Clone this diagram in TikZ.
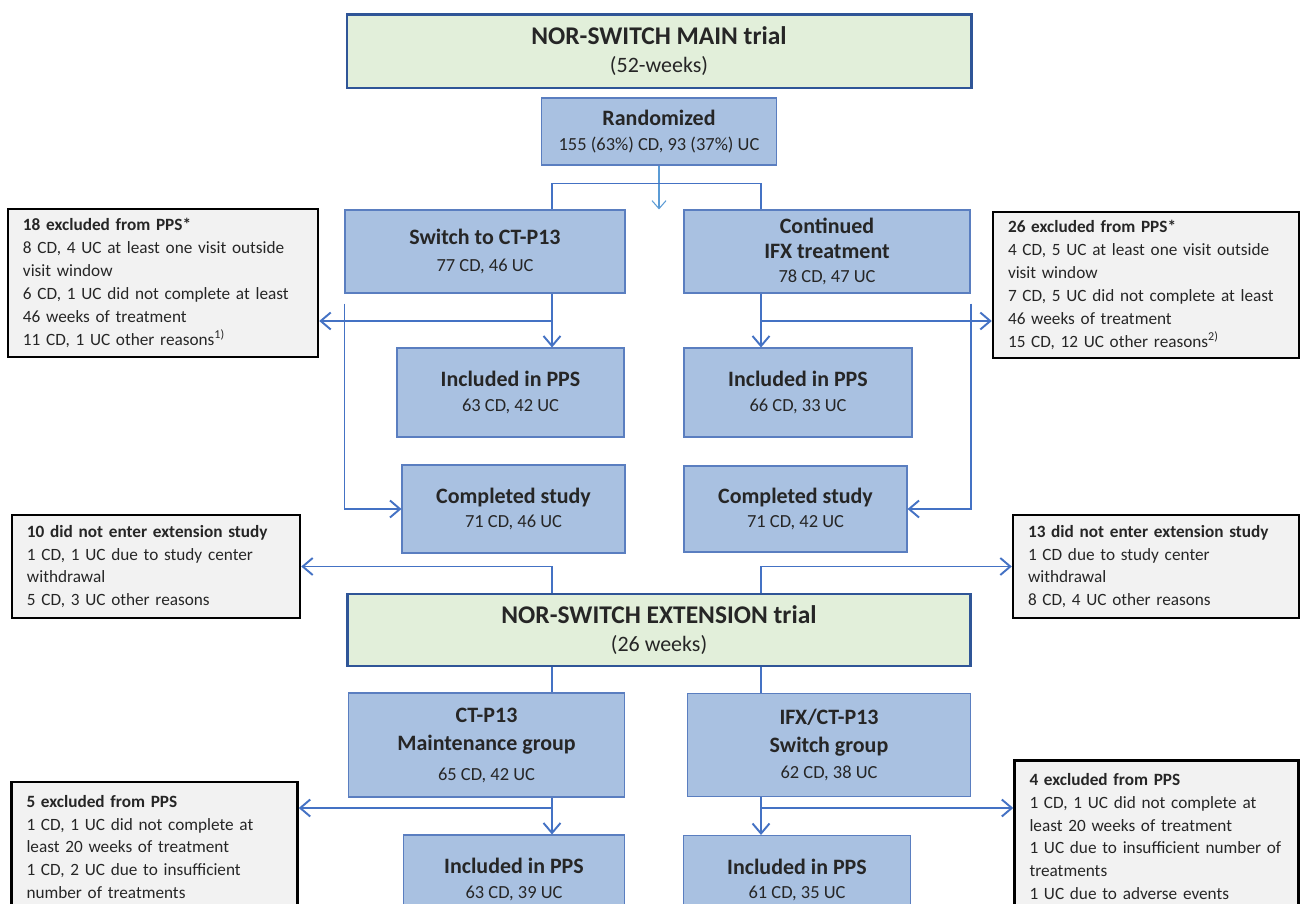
\documentclass[tikz,border=0pt]{standalone}
\usepackage{fontspec}
\setmainfont{Carlito}
\usetikzlibrary{arrows.meta}

\definecolor{boxblue}{HTML}{A9C1E1}
\definecolor{boxline}{HTML}{5A7EC0}
\definecolor{trialgreen}{HTML}{E2EFDA}
\definecolor{trialline}{HTML}{2F5597}
\definecolor{exgray}{HTML}{F2F2F2}
\definecolor{linkblue}{HTML}{4472C4}
\definecolor{thinblue}{HTML}{5B9BD5}
\definecolor{txtgray}{HTML}{262626}

\newcommand{\hd}[1]{{\fontsize{12.5}{15}\selectfont\bfseries #1}}
\newcommand{\hdbig}[1]{{\fontsize{14.5}{17}\selectfont\bfseries #1}}

\tikzstyle{trial} = [
    rectangle,
    draw=trialline,
    line width=1.7pt,
    fill=trialgreen,
    align=center,
    text=txtgray,
    font=\fontsize{12.5}{16}\selectfont
]
\tikzstyle{process} = [
    rectangle,
    draw=boxline,
    line width=0.6pt,
    fill=boxblue,
    align=center,
    inner sep=0pt,
    text=txtgray,
    font=\fontsize{10.5}{14}\selectfont
]
\tikzstyle{excluded} = [
    rectangle,
    draw=black,
    line width=1.4pt,
    fill=exgray,
    align=left,
    inner xsep=0.3cm,
    inner ysep=0pt,
    text=txtgray,
    font=\fontsize{9.8}{13}\selectfont
]
\tikzstyle{link} = [draw=linkblue, line width=1.1pt]
\tikzstyle{arrow} = [link, -{Straight Barb[length=2mm,width=3.4mm]}]
\tikzstyle{thinarrow} = [draw=thinblue, line width=0.6pt, -{Straight Barb[length=1.6mm,width=2.8mm]}]

\begin{document}
\begin{tikzpicture}[node distance=1.6cm]

\useasboundingbox (0,0) rectangle (26.02,-18.08);
\clip (0,0) rectangle (26.02,-18.08);

% main trial
\node (main) [trial, minimum width=12.48cm, minimum height=1.46cm] at (13.18,-1.03)
{\hdbig{NOR-SWITCH MAIN trial}\\(52-weeks)};

\node (rand) [process, below of=main, minimum width=4.7cm, minimum height=1.34cm]
{\hd{Randomized}\\155 (63\%) CD, 93 (37\%) UC};

\node (switch) [process, below of=rand, yshift=-0.8cm, xshift=-3.48cm,
    minimum width=5.6cm, minimum height=1.66cm]
{\hd{Switch to CT-P13}\\[1pt]77 CD, 46 UC};

\node (cont) [process, right of=switch, xshift=5.24cm,
    minimum width=5.72cm, minimum height=1.66cm]
{\hd{Continued}\\\hd{IFX treatment}\\78 CD, 47 UC};

\node (incl1) [process, below of=switch, yshift=-1.22cm, xshift=0.51cm,
    minimum width=4.54cm, minimum height=1.78cm]
{\hd{Included in PPS}\\63 CD, 42 UC};

\node (incl2) [process, below of=cont, yshift=-1.22cm, xshift=-0.58cm,
    minimum width=4.56cm, minimum height=1.78cm]
{\hd{Included in PPS}\\66 CD, 33 UC};

\node (comp1) [process, below of=incl1, yshift=-0.73cm, xshift=0.06cm,
    minimum width=4.46cm, minimum height=1.76cm]
{\hd{Completed study}\\71 CD, 46 UC};

\node (comp2) [process, below of=incl2, yshift=-0.73cm, xshift=-0.05cm,
    minimum width=4.46cm, minimum height=1.72cm]
{\hd{Completed study}\\71 CD, 42 UC};

% excluded from main trial
\node (exA) [excluded, left of=switch, xshift=-4.84cm, yshift=-0.63cm,
    text width=5.6cm, minimum height=2.96cm]
{\textbf{18 excluded from PPS*}\\8 CD, 4 UC at least one visit outside\\visit window\\6 CD, 1 UC did not complete at least\\46 weeks of treatment\\11 CD, 1 UC other reasons\textsuperscript{1)}};

\node (exB) [excluded, right of=cont, xshift=4.78cm, yshift=-0.67cm,
    text width=5.52cm, minimum height=2.92cm]
{\textbf{26 excluded from PPS*}\\4 CD, 5 UC at least one visit outside\\visit window\\7 CD, 5 UC did not complete at least\\46 weeks of treatment\\15 CD, 12 UC other reasons\textsuperscript{2)}};

% extension trial
\node (ext) [trial, below of=main, yshift=-9.97cm, minimum width=12.46cm, minimum height=1.44cm]
{\hdbig{NOR-SWITCH EXTENSION trial}\\(26 weeks)};

\node (noextA) [excluded, left of=comp1, xshift=-5.55cm, yshift=-1.15cm,
    text width=5.16cm, minimum height=2.06cm]
{\textbf{10 did not enter extension study}\\1 CD, 1 UC due to study center\\withdrawal\\5 CD, 3 UC other reasons};

\node (noextB) [excluded, right of=comp2, xshift=5.61cm, yshift=-1.15cm,
    text width=5.12cm, minimum height=2.06cm]
{\textbf{13 did not enter extension study}\\1 CD due to study center\\withdrawal\\8 CD, 4 UC other reasons};

\node (ctp) [process, below of=ext, yshift=-0.7cm, xshift=-3.45cm,
    minimum width=5.52cm, minimum height=2.08cm]
{\hd{CT-P13}\\[2pt]\hd{Maintenance group}\\[3pt]65 CD, 42 UC};

\node (ifx) [process, right of=ctp, xshift=5.25cm,
    minimum width=5.66cm, minimum height=2.06cm]
{\hd{IFX/CT-P13}\\[2pt]\hd{Switch group}\\[1pt]62 CD, 38 UC};

\node (incl3) [process, below of=ctp, yshift=-1.09cm, xshift=0.55cm,
    minimum width=4.42cm, minimum height=1.78cm]
{\hd{Included in PPS}\\63 CD, 39 UC};

\node (incl4) [process, below of=ifx, yshift=-1.1cm, xshift=-0.64cm,
    minimum width=4.54cm, minimum height=1.78cm]
{\hd{Included in PPS}\\61 CD, 35 UC};

\node (exC) [excluded, left of=ctp, xshift=-5.04cm, yshift=-2.04cm,
    text width=5.12cm, minimum height=2.6cm]
{\textbf{5 excluded from PPS}\\1 CD, 1 UC did not complete at\\least 20 weeks of treatment\\1 CD, 2 UC due to insufficient\\number of treatments};

\node (exD) [excluded, right of=ifx, xshift=4.95cm, yshift=-1.83cm,
    text width=5.08cm, minimum height=3.04cm]
{\textbf{4 excluded from PPS}\\1 CD, 1 UC did not complete at\\least 20 weeks of treatment\\1 UC due to insufficient number of\\treatments\\1 UC due to adverse events};

% connector columns and split points
\coordinate (lcol) at (11.04,0);
\coordinate (rcol) at (15.22,0);
\coordinate (split) at (13.18,-3.67);
\coordinate (splitA) at (11.04,-6.42);
\coordinate (splitB) at (15.22,-6.42);
\coordinate (splitC) at (11.04,-16.16);
\coordinate (splitD) at (15.22,-16.16);

\draw [thinarrow] (rand.south) -- (rand.south |- switch.north);
\draw [link] (switch.north -| lcol) |- (split) -| (cont.north -| rcol);

\draw [arrow] (switch.south -| lcol) -- (incl1.north -| lcol);
\draw [arrow] (splitA) -- (splitA -| exA.east);
\draw [arrow] ([yshift=-0.2cm]switch.south west) |- (comp1.west);

\draw [arrow] (cont.south -| rcol) -- (incl2.north -| rcol);
\draw [arrow] (splitB) -- (splitB -| exB.west);
\draw [arrow] ([yshift=-0.2cm]cont.south east) |- (comp2.east);

\draw [arrow] (ext.north -| lcol) |- (noextA.east);
\draw [arrow] (ext.north -| rcol) |- (noextB.west);

\draw [link] (ext.south -| lcol) -- (ctp.north -| lcol);
\draw [link] (ext.south -| rcol) -- (ifx.north -| rcol);

\draw [arrow] (ctp.south -| lcol) -- (incl3.north -| lcol);
\draw [arrow] (splitC) -- (splitC -| exC.east);
\draw [arrow] (ifx.south -| rcol) -- (incl4.north -| rcol);
\draw [arrow] (splitD) -- (splitD -| exD.west);

\end{tikzpicture}
\end{document}
